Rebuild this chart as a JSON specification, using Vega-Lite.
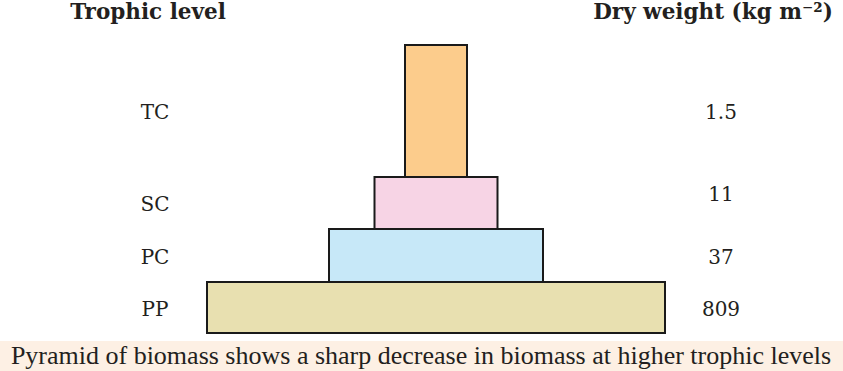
{
  "$schema": "https://vega.github.io/schema/vega-lite/v6.json",
  "width": 843,
  "height": 371,
  "autosize": {"type": "fit", "contains": "padding"},
  "padding": 0,
  "background": "white",
  "config": {"view": {"stroke": null}},
  "datasets": {
    "levels": [
      {"level": "PP", "order": 1, "dryWeight": "809", "relWidth": 458, "relHeight": 51},
      {"level": "PC", "order": 2, "dryWeight": "37", "relWidth": 214, "relHeight": 53},
      {"level": "SC", "order": 3, "dryWeight": "11", "relWidth": 123, "relHeight": 52},
      {"level": "TC", "order": 4, "dryWeight": "1.5", "relWidth": 62, "relHeight": 132}
    ],
    "caption": [
      {"caption": "Pyramid of biomass shows a sharp decrease in biomass at higher trophic levels"}
    ]
  },
  "data": {"name": "levels"},
  "transform": [
    {"stack": "relWidth", "groupby": ["level"], "offset": "center", "as": ["x0", "x1"]},
    {"stack": "relHeight", "groupby": [], "sort": [{"field": "order", "order": "ascending"}], "as": ["y0", "y1"]}
  ],
  "resolve": {"scale": {"x": "shared", "y": "shared"}},
  "layer": [
    {
      "data": {"name": "caption"},
      "mark": {"type": "rect", "fill": "#FDF0E4"},
      "encoding": {
        "x": {"datum": -207, "type": "quantitative", "scale": {"domain": [-207, 636], "nice": false, "zero": false}, "axis": null},
        "x2": {"datum": 636},
        "y": {"datum": -38, "type": "quantitative", "scale": {"domain": [-38, 333], "nice": false, "zero": false}, "axis": null},
        "y2": {"datum": -8}
      }
    },
    {
      "mark": {"type": "rect", "stroke": "#1a1a1a", "strokeWidth": 2},
      "encoding": {
        "x": {"field": "x0", "type": "quantitative", "axis": null},
        "x2": {"field": "x1"},
        "y": {"field": "y0", "type": "quantitative", "axis": null},
        "y2": {"field": "y1"},
        "color": {
          "field": "level",
          "type": "nominal",
          "scale": {"domain": ["TC", "SC", "PC", "PP"], "range": ["#FCCC8C", "#F7D4E5", "#C7E8F8", "#E8E0B0"]},
          "legend": null
        }
      }
    },
    {
      "transform": [
        {"fold": ["y0", "y1"], "as": ["edge", "yEdge"]},
        {"aggregate": [{"op": "mean", "field": "yEdge", "as": "yMid"}], "groupby": ["level", "dryWeight"]}
      ],
      "layer": [
        {
          "mark": {"type": "text", "font": "DejaVu Serif", "fontSize": 20, "color": "#231f20", "align": "center", "baseline": "middle", "dy": 2},
          "encoding": {
            "x": {"datum": -52, "type": "quantitative"},
            "y": {"field": "yMid", "type": "quantitative"},
            "text": {"field": "level", "type": "nominal"}
          }
        },
        {
          "transform": [{"filter": "datum.level !== 'SC'"}],
          "mark": {"type": "text", "font": "DejaVu Serif", "fontSize": 20, "color": "#231f20", "align": "center", "baseline": "middle", "dy": 2},
          "encoding": {
            "x": {"datum": 514, "type": "quantitative"},
            "y": {"field": "yMid", "type": "quantitative"},
            "text": {"field": "dryWeight", "type": "nominal"}
          }
        },
        {
          "transform": [{"filter": "datum.level === 'SC'"}],
          "mark": {"type": "text", "font": "DejaVu Serif", "fontSize": 20, "color": "#231f20", "align": "center", "baseline": "middle", "dy": -8},
          "encoding": {
            "x": {"datum": 514, "type": "quantitative"},
            "y": {"field": "yMid", "type": "quantitative"},
            "text": {"field": "dryWeight", "type": "nominal"}
          }
        }
      ]
    },
    {
      "data": {"values": [{"header": "Trophic level"}]},
      "mark": {"type": "text", "font": "DejaVu Serif", "fontWeight": "bold", "fontSize": 21.5, "color": "#231f20", "align": "center", "baseline": "middle"},
      "encoding": {
        "x": {"datum": -59, "type": "quantitative"},
        "y": {"datum": 320, "type": "quantitative"},
        "text": {"field": "header", "type": "nominal"}
      }
    },
    {
      "data": {"values": [{"header": "Dry weight (kg m⁻²)"}]},
      "mark": {"type": "text", "font": "DejaVu Serif", "fontWeight": "bold", "fontSize": 21.5, "color": "#231f20", "align": "center", "baseline": "middle"},
      "encoding": {
        "x": {"datum": 506, "type": "quantitative"},
        "y": {"datum": 320, "type": "quantitative"},
        "text": {"field": "header", "type": "nominal"}
      }
    },
    {
      "data": {"name": "caption"},
      "mark": {"type": "text", "font": "Liberation Serif", "fontSize": 26, "color": "#231f20", "align": "center", "baseline": "middle"},
      "encoding": {
        "x": {"datum": 214, "type": "quantitative"},
        "y": {"datum": -23, "type": "quantitative"},
        "text": {"field": "caption", "type": "nominal"}
      }
    }
  ]
}
